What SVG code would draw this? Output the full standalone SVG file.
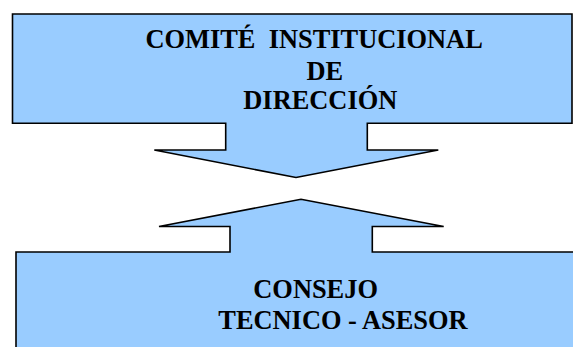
<svg xmlns="http://www.w3.org/2000/svg" width="573" height="347" viewBox="0 0 573 347">
<style>
.shape{fill:#99CCFF;stroke:#000;stroke-width:1.6;stroke-linejoin:miter}
.t{font-family:"Liberation Serif","Times New Roman",serif;font-weight:bold;font-size:26.4px;fill:#000}
</style>
<rect width="573" height="347" fill="#fff"/>
<g id="comite">
<path class="shape" d="M12.5,14 H572 V123.3 H367.3 V150 H438.3 L296,177.5 L154.3,150 H225.7 V123.3 H12.5 Z"/>
<text class="t" x="145.5" y="47.7" xml:space="preserve">COMITÉ  INSTITUCIONAL</text>
<text class="t" x="306.5" y="80">DE</text>
<text class="t" x="243.3" y="109">DIRECCIÓN</text>
</g>
<g id="consejo">
<path class="shape" d="M16,252 H230 V226.5 H159 L301,199.3 L443.7,226.5 H372.3 V252 H576 V350 H16 Z"/>
<text class="t" x="253.3" y="298.3">CONSEJO</text>
<text class="t" x="218.3" y="328.7">TECNICO - ASESOR</text>
</g>
<g id="connectors"/>
</svg>
